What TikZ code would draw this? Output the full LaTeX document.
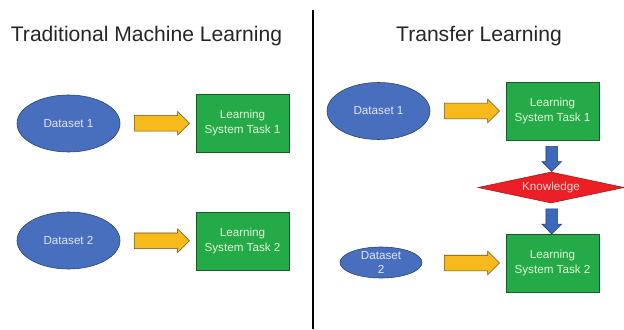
\documentclass[tikz,border=0pt]{standalone}
\usepackage{fontspec}
\setmainfont{Liberation Sans}
\usetikzlibrary{shapes.geometric,shapes.arrows,calc}

\definecolor{dsblue}{RGB}{72,110,190}
\definecolor{dsedge}{RGB}{40,62,110}
\definecolor{dstext}{RGB}{228,228,248}
\definecolor{tkgreen}{RGB}{36,170,70}
\definecolor{tkedge}{RGB}{24,90,40}
\definecolor{tktext}{RGB}{226,245,220}
\definecolor{knred}{RGB}{236,32,36}
\definecolor{kntext}{RGB}{250,215,215}
\definecolor{arryellow}{RGB}{246,186,28}
\definecolor{arredge}{RGB}{110,80,20}
\definecolor{arrblue}{RGB}{60,105,190}

\tikzset{
  dataset/.style={ellipse, draw=dsedge, fill=dsblue, text=dstext, align=center,
    font=\fontsize{8.3}{9.5}\selectfont, minimum width=2.575cm, minimum height=1.425cm, inner sep=0pt},
  tasknode/.style={rectangle, draw=tkedge, fill=tkgreen, text=tktext, align=center,
    font=\fontsize{8.3}{10.5}\selectfont, minimum width=2.325cm, minimum height=1.45cm, inner sep=0pt},
  knownode/.style={diamond, draw=knred!70!black, fill=knred, text=kntext, aspect=4.7,
    font=\fontsize{8.3}{10}\selectfont, minimum width=3.65cm, minimum height=0.775cm, inner sep=0pt},
  yarrow/.style={single arrow, draw=arredge, fill=arryellow, minimum height=1.375cm,
    inner sep=0.1875cm, single arrow head extend=0.1cm, single arrow tip angle=90},
  barrow/.style={single arrow, shape border rotate=270, draw=dsedge, fill=arrblue,
    minimum height=0.625cm, inner sep=0.1375cm, single arrow head extend=0.1cm, single arrow tip angle=90},
  heading/.style={anchor=base, font=\fontsize{15}{18}\selectfont, text=black!85}
}

\begin{document}
\begin{tikzpicture}[x=0.025cm,y=-0.025cm]
    \useasboundingbox (0,0) rectangle (624,329);
    % titles and divider
    \node[heading] (tleft) at (146.5,42) {Traditional Machine Learning};
    \node[heading] (tright) at (479,42) {Transfer Learning};
    \draw[line width=2pt] (313,10) -- (313,329);
    % traditional machine learning
    \node[dataset] (d1) at (68.5,123.5) {Dataset 1};
    \node[tasknode] (b1) at (242.5,123) {Learning\\System Task 1};
    \node[dataset] (d2) at (68.5,240.5) {Dataset 2};
    \node[tasknode] (b2) at (242.5,241) {Learning\\System Task 2};
    \node[yarrow] (a1) at ($(d1.east)!0.5!(b1.west)$) {};
    \node[yarrow] (a2) at ($(d2.east)!0.5!(b2.west)$) {};
    % transfer learning
    \node[dataset] (rd1) at (378.5,111) {Dataset 1};
    \node[tasknode] (rb1) at (552.5,111) {Learning\\System Task 1};
    \node[knownode] (kn) at (551,187.5) {Knowledge};
    \node[tasknode] (rb2) at (552.5,263) {Learning\\System Task 2};
    \node[dataset, minimum width=2.05cm, minimum height=0.775cm] (rd2) at (381,262.5) {Dataset\\2};
    \node[yarrow] (ra1) at ($(rd1.east)!0.5!(rb1.west)$) {};
    \node[yarrow] (ra2) at (ra1 |- rb2) {};
    \node[barrow] (k1) at ($(rb1.south)!0.5!(kn.north)$) {};
    \node[barrow] (k2) at ($(kn.south)!0.5!(rb2.north)$) {};
\end{tikzpicture}
\end{document}
